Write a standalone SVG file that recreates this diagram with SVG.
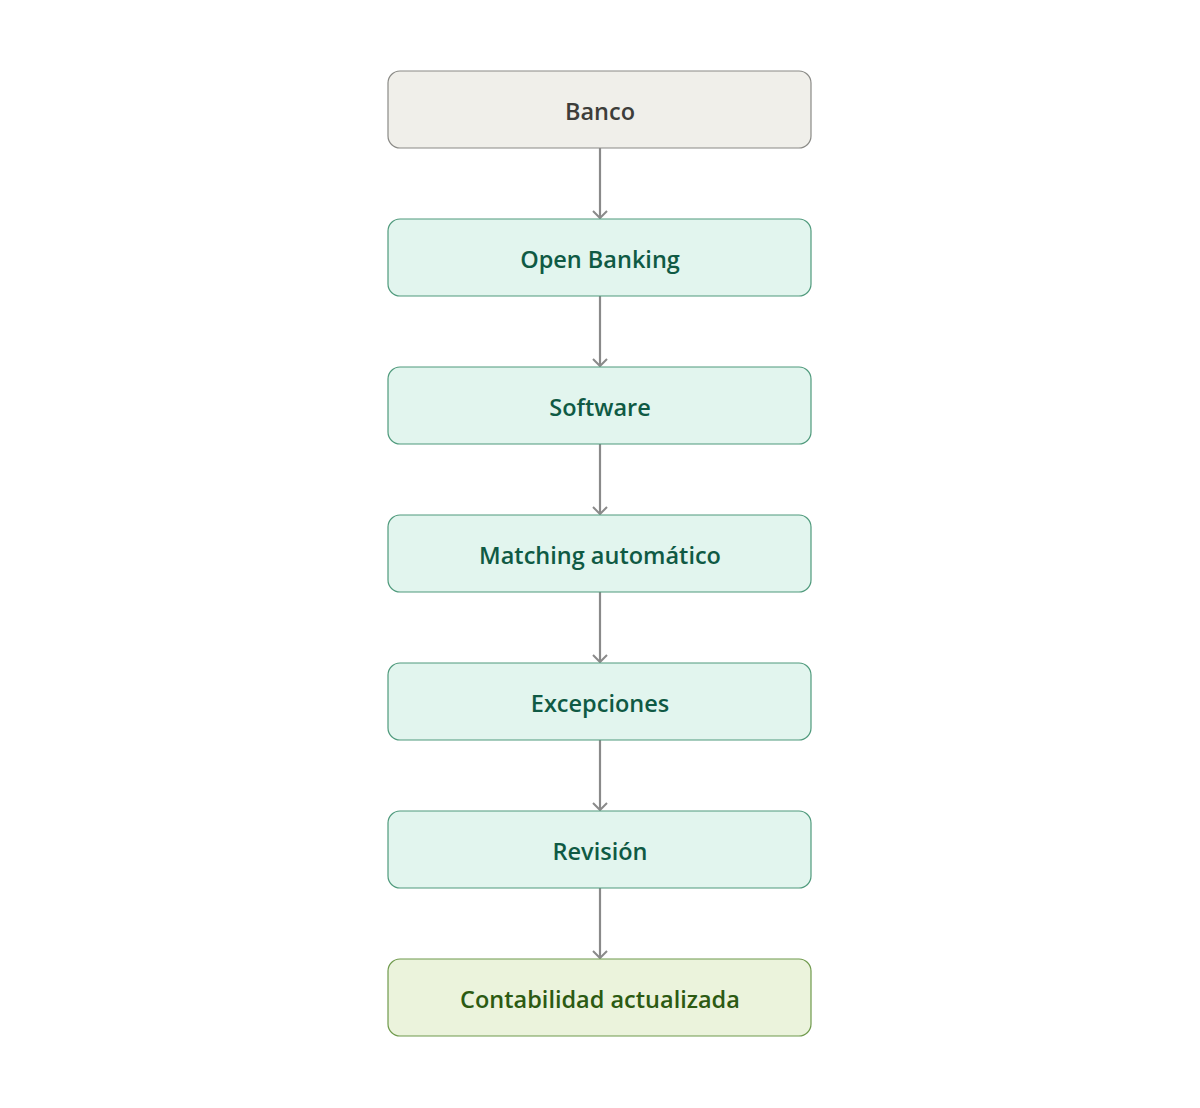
<svg xmlns="http://www.w3.org/2000/svg" width="1200" height="1108" viewBox="0 0 1200 1108">
<defs>
<marker id="arr" markerWidth="16" markerHeight="16" viewBox="0 0 16 16" refX="14" refY="8" orient="auto" markerUnits="userSpaceOnUse">
<path d="M7,1 L14,8 L7,15" fill="none" stroke="#8a8a8a" stroke-width="2"/>
</marker>
</defs>
<style>
.t{font-family:"Open Sans","Noto Sans","Liberation Sans",sans-serif;font-size:23.5px;font-weight:600;text-anchor:middle;dominant-baseline:central}
.n rect{rx:12;ry:12;stroke-width:1.2}
.g rect{fill:#e2f5ee;stroke:#4f9a7c}
.g text{fill:#0f5a44}
.c line{stroke:#8a8a8a;stroke-width:2.2;marker-end:url(#arr)}
</style>
<rect width="1200" height="1108" fill="#ffffff"/>
<g class="c" id="connectors">
<line x1="600" y1="148" x2="600" y2="218"/>
<line x1="600" y1="296" x2="600" y2="366"/>
<line x1="600" y1="444" x2="600" y2="514"/>
<line x1="600" y1="592" x2="600" y2="662"/>
<line x1="600" y1="740" x2="600" y2="810"/>
<line x1="600" y1="888" x2="600" y2="958"/>
</g>
<g class="n" id="banco"><rect x="388" y="71" width="423" height="77" fill="#f0efea" stroke="#8a8a86"/><text class="t" x="600" y="111" fill="#3d3d3a">Banco</text></g>
<g class="n g" id="open-banking"><rect x="388" y="219" width="423" height="77"/><text class="t" x="600" y="259">Open Banking</text></g>
<g class="n g" id="software"><rect x="388" y="367" width="423" height="77"/><text class="t" x="600" y="407">Software</text></g>
<g class="n g" id="matching"><rect x="388" y="515" width="423" height="77"/><text class="t" x="600" y="555">Matching automático</text></g>
<g class="n g" id="excepciones"><rect x="388" y="663" width="423" height="77"/><text class="t" x="600" y="703">Excepciones</text></g>
<g class="n g" id="revision"><rect x="388" y="811" width="423" height="77"/><text class="t" x="600" y="851">Revisión</text></g>
<g class="n" id="contabilidad"><rect x="388" y="959" width="423" height="77" fill="#ebf3dc" stroke="#6f9a4c"/><text class="t" x="600" y="999" fill="#2c5a12">Contabilidad actualizada</text></g>
</svg>
